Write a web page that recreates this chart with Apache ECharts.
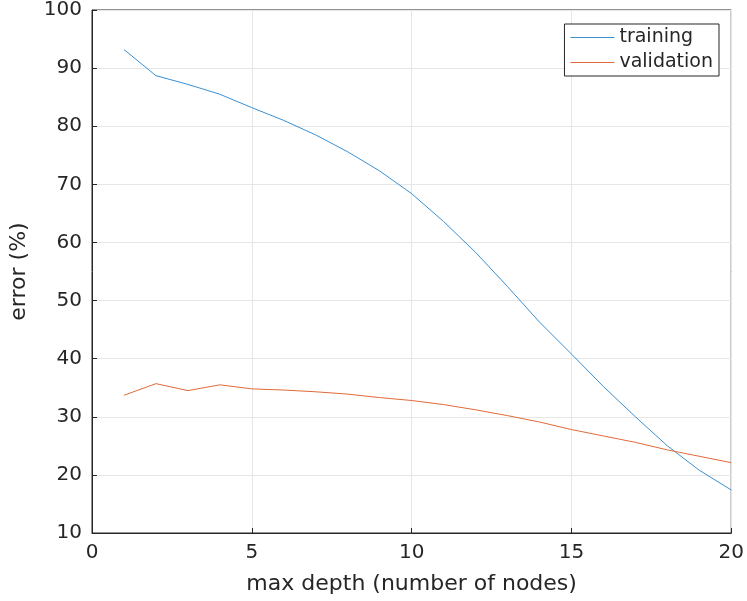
<!DOCTYPE html>
<html>
<head>
<meta charset="utf-8">
<script src="https://cdn.jsdelivr.net/npm/echarts@6/dist/echarts.min.js"></script>
<style>html,body{margin:0;padding:0;background:#fff}</style>
</head>
<body>
<div id="chart" style="width:747px;height:601px;"></div>
<script>
// depth values along the x axis
const depths = [1,2,3,4,5,6,7,8,9,10,11,12,13,14,15,16,17,18,19,20];
const trainingErr = [93.2,88.7,87.2,85.5,83.2,81.0,78.5,75.6,72.3,68.4,63.6,58.3,52.4,46.3,40.8,35.2,30.0,25.0,20.8,17.4];
const validationErr = [33.7,35.7,34.5,35.5,34.8,34.6,34.3,33.9,33.3,32.8,32.1,31.2,30.2,29.1,27.8,26.7,25.6,24.3,23.2,22.1];

const font = 'DejaVu Sans';
const chart = echarts.init(document.getElementById('chart'));

function pairs(ys) {
    return depths.map(function (x, i) { return [x, ys[i]]; });
}

const axisLine = {show: true, onZero: false, lineStyle: {color: '#262626', width: 1}};
chart.setOption({
    animation: false,
    textStyle: {fontFamily: font},
    grid: {left: 85, right: 14, top: 9, bottom: 68, show: true, borderColor: '#262626', borderWidth: 1},
    legend: {
        right: 28, top: 24, orient: 'vertical', itemGap: 6,
        backgroundColor: '#fff', borderColor: '#262626', borderWidth: 1,
        padding: [4, 6, 4, 6], itemWidth: 44, itemHeight: 1,
        textStyle: {fontFamily: font, fontSize: 19, color: '#262626'},
        data: [{name: 'training', icon: 'rect'}, {name: 'validation', icon: 'rect'}]
    },
    xAxis: {
        type: 'value', min: 0, max: 20, interval: 5,
        name: 'max depth (number of nodes)', nameLocation: 'middle', nameGap: 40,
        nameTextStyle: {fontFamily: font, fontSize: 22, color: '#262626'},
        axisLine: axisLine,
        axisTick: {inside: true, lineStyle: {color: '#262626'}},
        axisLabel: {fontFamily: font, fontSize: 20, color: '#262626', margin: 10},
        splitLine: {show: true, lineStyle: {color: '#e6e6e6'}}
    },
    yAxis: {
        type: 'value', min: 10, max: 100, interval: 10,
        name: 'error (%)', nameLocation: 'middle', nameGap: 62,
        nameTextStyle: {fontFamily: font, fontSize: 22, color: '#262626'},
        axisLine: axisLine,
        axisTick: {inside: true, lineStyle: {color: '#262626'}},
        axisLabel: {fontFamily: font, fontSize: 20, color: '#262626', margin: 10},
        splitLine: {show: true, lineStyle: {color: '#e6e6e6'}}
    },
    series: [{
        name: 'training', type: 'line', data: pairs(trainingErr), showSymbol: false,
        color: '#3a8fd0', lineStyle: {width: 1}
    }, {
        name: 'validation', type: 'line', data: pairs(validationErr), showSymbol: false,
        color: '#e06a3a', lineStyle: {width: 1}
    }]
});
</script>
</body>
</html>
